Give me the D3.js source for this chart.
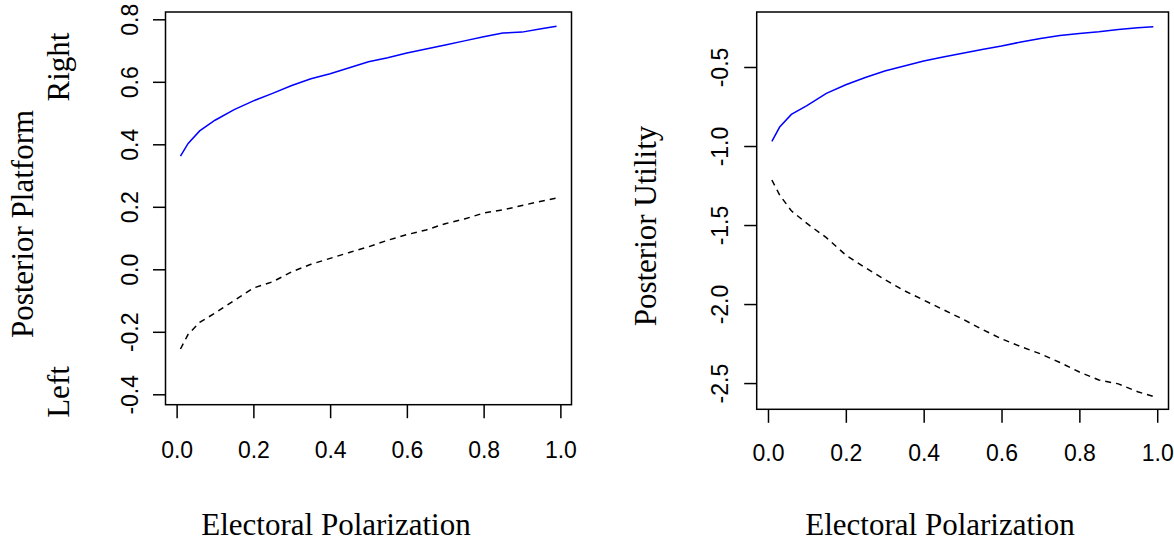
<!DOCTYPE html>
<html>
<head>
<meta charset="utf-8">
<script src="https://cdn.jsdelivr.net/npm/d3@7"></script>
<style>
  body { margin: 0; background: #fff; }
  svg { display: block; }
</style>
</head>
<body>
<svg id="chart"></svg>
<script>
// Electoral polarization grid (shared by both panels)
const polarization = [0.01, 0.03, 0.06, 0.10, 0.15, 0.20, 0.25, 0.30, 0.35, 0.40, 0.45,
  0.50, 0.55, 0.60, 0.65, 0.70, 0.75, 0.80, 0.85, 0.90, 0.95, 0.99];

// Posterior platform
const platformRight = [0.362, 0.403, 0.443, 0.477, 0.511, 0.539, 0.563, 0.588, 0.610, 0.626, 0.645,
  0.664, 0.677, 0.692, 0.705, 0.718, 0.731, 0.744, 0.756, 0.759, 0.770, 0.778];
const platformLeft = [-0.255, -0.208, -0.170, -0.140, -0.100, -0.060, -0.040, -0.008, 0.016, 0.035, 0.054,
  0.072, 0.093, 0.111, 0.126, 0.146, 0.161, 0.180, 0.190, 0.204, 0.218, 0.228];

// Posterior utility
const utilityRight = [-0.970, -0.880, -0.800, -0.745, -0.667, -0.612, -0.566, -0.525, -0.494, -0.462, -0.437,
  -0.413, -0.389, -0.367, -0.342, -0.320, -0.301, -0.288, -0.277, -0.262, -0.252, -0.245];
const utilityLeft = [-1.215, -1.310, -1.410, -1.490, -1.580, -1.690, -1.770, -1.845, -1.915, -1.975, -2.035,
  -2.095, -2.160, -2.220, -2.270, -2.315, -2.370, -2.430, -2.480, -2.505, -2.555, -2.585];

const xTicks = [0, 0.2, 0.4, 0.6, 0.8, 1.0];
const platformTicks = [-0.4, -0.2, 0.0, 0.2, 0.4, 0.6, 0.8];
const utilityTicks = [-2.5, -2.0, -1.5, -1.0, -0.5];

const width = 1174, height = 542;
const sans = "'Liberation Sans', Arial, sans-serif";
const serif = "'Liberation Serif', 'Times New Roman', serif";

const svg = d3.select('#chart')
  .attr('width', width)
  .attr('height', height);

function drawPanel(p) {
  const x = d3.scaleLinear().domain([-0.029, 1.029]).range([p.left, p.right]);
  const y = d3.scaleLinear().domain(p.yDomain).range([p.bottom, p.top]);

  const g = svg.append('g');

  // x axis
  const xAxis = g.append('g')
    .attr('transform', `translate(0,${p.bottom})`)
    .call(d3.axisBottom(x).tickValues(xTicks).tickSize(13.5).tickFormat(d => d.toFixed(1)));
  xAxis.select('.domain').remove();
  xAxis.selectAll('line').attr('stroke', '#000').attr('stroke-width', 1.5);
  xAxis.selectAll('text')
    .attr('y', p.xLabelY).attr('dy', 0)
    .style('font-family', sans).style('font-size', '23px').attr('fill', '#000');

  // y axis, labels parallel to the axis
  const yAxis = g.append('g')
    .attr('transform', `translate(${p.left},0)`)
    .call(d3.axisLeft(y).tickValues(p.yTicks).tickSize(12.5).tickFormat(d => d.toFixed(1)));
  yAxis.select('.domain').remove();
  yAxis.selectAll('line').attr('stroke', '#000').attr('stroke-width', 1.5);
  yAxis.selectAll('text')
    .attr('x', 0).attr('dy', 0)
    .attr('transform', `translate(${-p.yLabelOffset},0) rotate(-90)`)
    .attr('text-anchor', 'middle')
    .style('font-family', sans).style('font-size', '23px').attr('fill', '#000');

  // plot box
  g.append('rect')
    .attr('x', p.left).attr('y', p.top)
    .attr('width', p.right - p.left).attr('height', p.bottom - p.top)
    .attr('fill', 'none').attr('stroke', '#000').attr('stroke-width', 1.5);

  const line = d3.line()
    .x((d, i) => x(polarization[i]))
    .y(d => y(d));

  g.append('path')
    .datum(p.lower)
    .attr('fill', 'none')
    .attr('stroke', '#000')
    .attr('stroke-width', 1.5)
    .attr('stroke-dasharray', '6,5')
    .attr('d', line);

  g.append('path')
    .datum(p.upper)
    .attr('fill', 'none')
    .attr('stroke', '#0000ff')
    .attr('stroke-width', 1.5)
    .attr('d', line);

  // titles
  g.append('text')
    .attr('x', p.xTitleX).attr('y', 535)
    .attr('text-anchor', 'middle')
    .style('font-family', serif).style('font-size', '31px')
    .text('Electoral Polarization');

  g.append('text')
    .attr('transform', `translate(${p.yTitleX},${p.yTitleY}) rotate(-90)`)
    .attr('text-anchor', 'middle')
    .style('font-family', serif).style('font-size', '31px')
    .text(p.yTitle);

  return { x, y, g };
}

const left = drawPanel({
  left: 165.5, right: 571.5, top: 12, bottom: 404.7,
  yDomain: [-0.4333, 0.8234], yTicks: platformTicks,
  upper: platformRight, lower: platformLeft,
  xLabelY: 53, yLabelOffset: 27.5,
  xTitleX: 336, yTitle: 'Posterior Platform', yTitleX: 33, yTitleY: 224
});

// Right / Left markers beside the platform axis
left.g.append('text')
  .attr('transform', 'translate(69,67) rotate(-90)')
  .attr('text-anchor', 'middle')
  .style('font-family', serif).style('font-size', '31px')
  .text('Right');
left.g.append('text')
  .attr('transform', 'translate(69,392) rotate(-90)')
  .attr('text-anchor', 'middle')
  .style('font-family', serif).style('font-size', '31px')
  .text('Left');

drawPanel({
  left: 756.7, right: 1168.5, top: 12, bottom: 409.3,
  yDomain: [-2.666, -0.152], yTicks: utilityTicks,
  upper: utilityRight, lower: utilityLeft,
  xLabelY: 52, yLabelOffset: 28.4,
  xTitleX: 940, yTitle: 'Posterior Utility', yTitleX: 656, yTitleY: 226
});
</script>
</body>
</html>
